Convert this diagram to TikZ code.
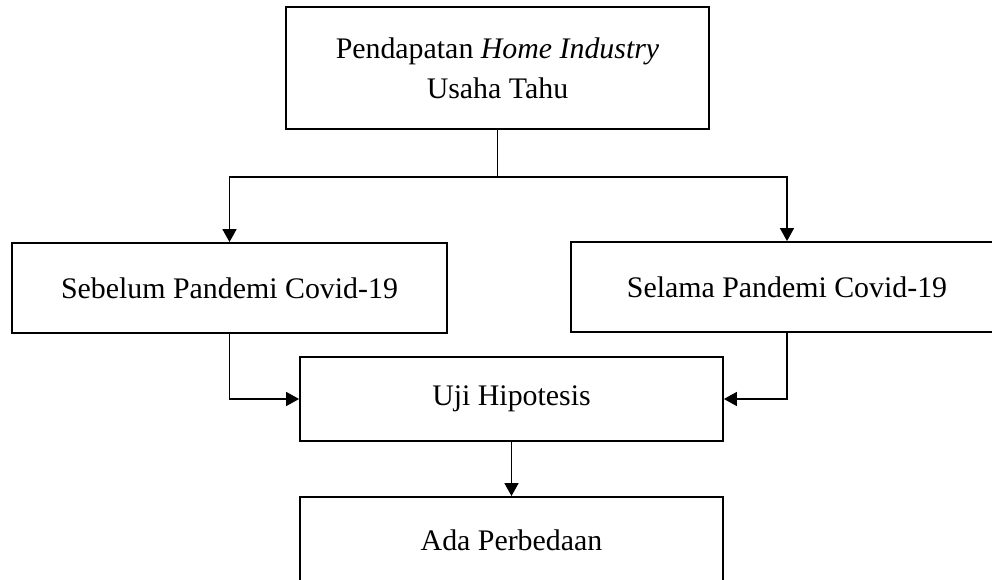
\documentclass[tikz,border=0pt]{standalone}
\usepackage{fontspec}
\setmainfont{Liberation Serif}
\usetikzlibrary{arrows.meta, calc}

\begin{document}
\begin{tikzpicture}[x=0.02cm, y=-0.02cm, >={Triangle[length=7.4pt, width=8pt]}, semithick]
                \tikzset{box/.style={draw, line width=1.1pt, align=center, inner sep=0pt, font=\fontsize{17}{22.8}\selectfont}};
                \tikzset{flow/.style={line width=0.85pt}};
                \useasboundingbox (0, 0) rectangle (992, 580);
                \clip (0, 0) rectangle (992, 580);
                \node[box, minimum width=8.46cm, minimum height=2.44cm] (incbox) at (497.5, 68) {Pendapatan \textit{Home Industry}\\Usaha Tahu};
                \node[box, minimum width=8.7cm, minimum height=1.8cm] (prebox) at (229.5, 288) {Sebelum Pandemi Covid-19};
                \node[box, minimum width=8.64cm, minimum height=1.8cm] (durbox) at (787, 287) {Selama Pandemi Covid-19};
                \node[box, minimum width=8.46cm, minimum height=1.68cm] (testbox) at (511.5, 399) {Uji Hipotesis};
                \node[box, minimum width=8.46cm, minimum height=1.72cm] (resbox) at (511.5, 540) {Ada Perbedaan};
                \coordinate (split) at (497.5, 177);
                \draw[flow] (incbox) -- (split);
                \draw[flow, ->] (split) -| (prebox.north);
                \draw[flow, ->] (split) -| (durbox.north);
                \draw[flow, ->] (prebox.south) |- (testbox.west);
                \draw[flow, ->] (durbox.south) |- (testbox.east);
                \draw[flow, ->] (testbox) -- (resbox);
            \end{tikzpicture}
\end{document}
